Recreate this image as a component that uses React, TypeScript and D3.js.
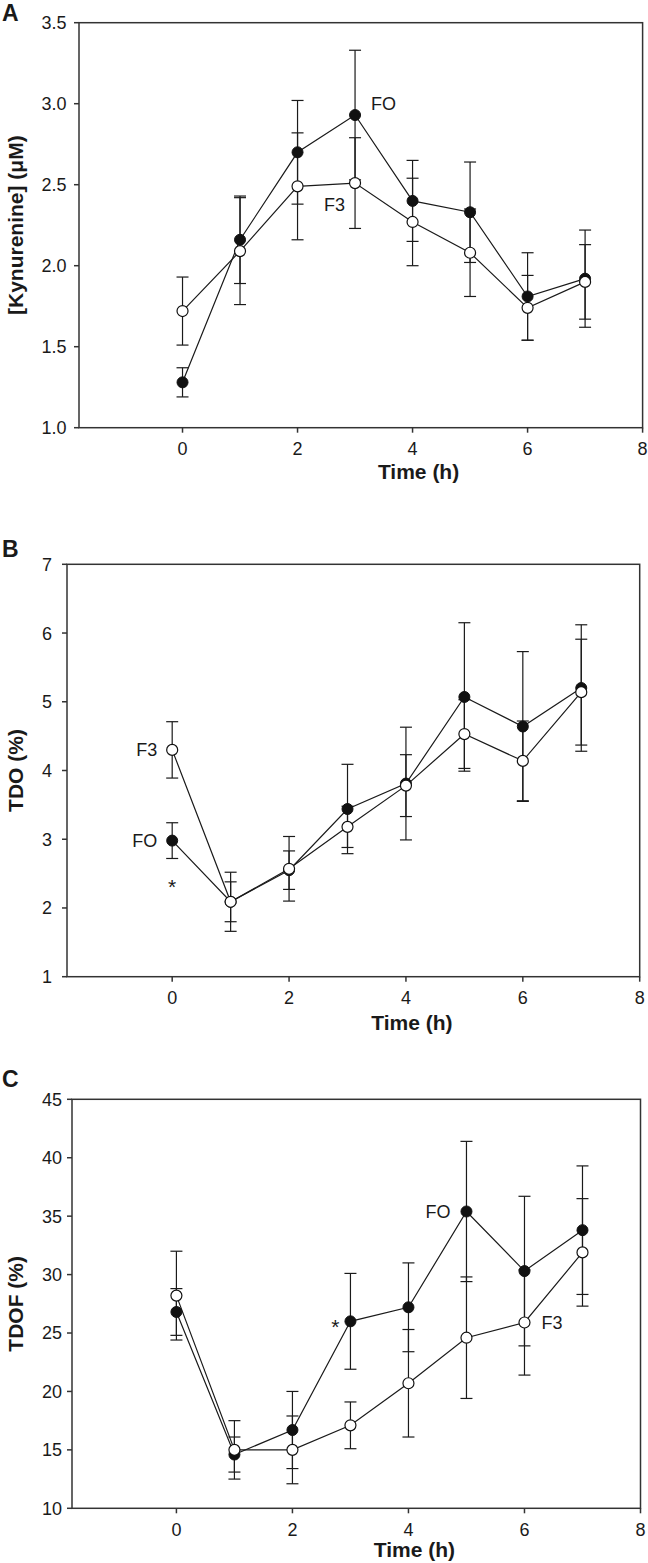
import React from "react";
import * as d3 from "d3";

const TIME = [0, 1, 2, 3, 4, 5, 6, 7];
const X_TICKS = [0, 2, 4, 6, 8];

const A_FO = [1.28, 2.16, 2.7, 2.93, 2.4, 2.33, 1.81, 1.92];
const A_FO_SD = [0.09, 0.27, 0.32, 0.4, 0.25, 0.31, 0.27, 0.3];
const A_F3 = [1.72, 2.09, 2.49, 2.51, 2.27, 2.08, 1.74, 1.9];
const A_F3_SD = [0.21, 0.33, 0.33, 0.28, 0.27, 0.27, 0.2, 0.23];
const A_TICKS = [1.0, 1.5, 2.0, 2.5, 3.0, 3.5];

const B_FO = [2.98, 2.09, 2.55, 3.44, 3.81, 5.07, 4.64, 5.2];
const B_FO_SD = [0.26, 0.29, 0.28, 0.65, 0.82, 1.08, 1.09, 0.92];
const B_F3 = [4.3, 2.09, 2.57, 3.18, 3.78, 4.53, 4.14, 5.14];
const B_F3_SD = [0.41, 0.43, 0.47, 0.3, 0.45, 0.5, 0.58, 0.77];
const B_TICKS = [1, 2, 3, 4, 5, 6, 7];

const C_FO = [26.8, 14.6, 16.7, 26.0, 27.2, 35.4, 30.3, 33.8];
const C_FO_SD = [2.0, 1.5, 3.3, 4.1, 3.8, 6.0, 6.4, 5.5];
const C_F3 = [28.2, 15.0, 15.0, 17.1, 20.7, 24.6, 25.9, 31.9];
const C_F3_SD = [3.8, 2.5, 2.9, 2.0, 4.6, 5.2, 4.5, 4.6];
const C_TICKS = [10, 15, 20, 25, 30, 35, 40, 45];

const FONT = "'Liberation Sans', Arial, Helvetica, sans-serif";
const AXIS = "#333";
const INK = "#1a1a1a";

type Ann = { text: string; t: number; v: number; dx: number; anchor: string; size?: number; dy?: number };

type PanelCfg = {
  letter: string;
  letterY: number;
  left: number;
  right: number;
  top: number;
  bottom: number;
  domain: [number, number];
  ticks: number[];
  fmt: (d: number) => string;
  yTitle: string;
  labelGap: number;
  titleOffset: number;
  fo: number[];
  foSd: number[];
  f3: number[];
  f3Sd: number[];
  anns: Ann[];
};

const PANELS: PanelCfg[] = [
  {
    letter: "A", letterY: 21, left: 79, right: 642.6, top: 22.7, bottom: 427.7,
    domain: [1, 3.5], ticks: A_TICKS, fmt: d3.format(".1f"), yTitle: "[Kynurenine] (\u03bcM)",
    labelGap: 12.5, titleOffset: 44,
    fo: A_FO, foSd: A_FO_SD, f3: A_F3, f3Sd: A_F3_SD,
    anns: [
      { text: "FO", t: 3, v: 3.0, dx: 16, anchor: "start" },
      { text: "F3", t: 3, v: 2.38, dx: -10, anchor: "end" },
    ],
  },
  {
    letter: "B", letterY: 557, left: 67, right: 639.7, top: 564.3, bottom: 976.7,
    domain: [1, 7], ticks: B_TICKS, fmt: d3.format("d"), yTitle: "TDO (%)",
    labelGap: 15, titleOffset: 46,
    fo: B_FO, foSd: B_FO_SD, f3: B_F3, f3Sd: B_F3_SD,
    anns: [
      { text: "F3", t: 0, v: 4.3, dx: -15, anchor: "end" },
      { text: "FO", t: 0, v: 2.98, dx: -15, anchor: "end" },
      { text: "*", t: 0, v: 2.38, dx: 0, anchor: "middle", dy: 12, size: 21 },
    ],
  },
  {
    letter: "C", letterY: 1087, left: 72, right: 640.5, top: 1099.3, bottom: 1508.3,
    domain: [10, 45], ticks: C_TICKS, fmt: d3.format("d"), yTitle: "TDOF (%)",
    labelGap: 10, titleOffset: 41,
    fo: C_FO, foSd: C_FO_SD, f3: C_F3, f3Sd: C_F3_SD,
    anns: [
      { text: "FO", t: 5, v: 35.4, dx: -16, anchor: "end" },
      { text: "F3", t: 6, v: 25.9, dx: 17, anchor: "start" },
      { text: "*", t: 3, v: 25.9, dx: -15, anchor: "middle", dy: 12, size: 21 },
    ],
  },
];

function Panel({ cfg }: { cfg: PanelCfg }) {
  const x = d3.scaleLinear().domain([-1.8, 8]).range([cfg.left, cfg.right]);
  const y = d3.scaleLinear().domain(cfg.domain).range([cfg.bottom, cfg.top]);
  const line = d3
    .line<number>()
    .x((_, i) => x(TIME[i]))
    .y((d) => y(d));
  const cap = 6;
  const r = 5.5;

  const errBars = (vals: number[], sds: number[], key: string) =>
    vals.map((v, i) => {
      const cx = x(TIME[i]);
      const y1 = y(v + sds[i]);
      const y2 = y(v - sds[i]);
      return (
        <g key={key + i} stroke={INK} strokeWidth={1.2}>
          <line x1={cx} x2={cx} y1={y1} y2={y2} />
          <line x1={cx - cap} x2={cx + cap} y1={y1} y2={y1} />
          <line x1={cx - cap} x2={cx + cap} y1={y2} y2={y2} />
        </g>
      );
    });

  const midY = (cfg.top + cfg.bottom) / 2;

  return (
    <g>
      <rect
        x={cfg.left}
        y={cfg.top}
        width={cfg.right - cfg.left}
        height={cfg.bottom - cfg.top}
        fill="none"
        stroke={AXIS}
        strokeWidth={1.5}
      />
      {cfg.ticks.map((t) => (
        <g key={"yt" + t}>
          <line x1={cfg.left - 5} x2={cfg.left} y1={y(t)} y2={y(t)} stroke={AXIS} strokeWidth={1.5} />
          <text
            x={cfg.left - cfg.labelGap}
            y={y(t)}
            dy="0.36em"
            textAnchor="end"
            fontSize={18}
            fontFamily={FONT}
            fill={INK}
          >
            {cfg.fmt(t)}
          </text>
        </g>
      ))}
      {X_TICKS.map((t) => (
        <g key={"xt" + t}>
          <line x1={x(t)} x2={x(t)} y1={cfg.bottom} y2={cfg.bottom + 5} stroke={AXIS} strokeWidth={1.5} />
          <text
            x={x(t)}
            y={cfg.bottom + 21}
            dy="0.36em"
            textAnchor="middle"
            fontSize={18}
            fontFamily={FONT}
            fill={INK}
          >
            {t}
          </text>
        </g>
      ))}
      <text
        x={(x(0) + x(8)) / 2 + 6}
        y={cfg.bottom + cfg.titleOffset}
        dy="0.36em"
        textAnchor="middle"
        fontSize={21}
        fontWeight="bold"
        fontFamily={FONT}
        fill={INK}
      >
        Time (h)
      </text>
      <text
        transform={`translate(15,${midY}) rotate(-90)`}
        dy="0.36em"
        textAnchor="middle"
        fontSize={21}
        fontWeight="bold"
        fontFamily={FONT}
        fill={INK}
      >
        {cfg.yTitle}
      </text>
      <text x={2} y={cfg.letterY} fontSize={23} fontWeight="bold" fontFamily={FONT} fill={INK}>
        {cfg.letter}
      </text>
      <path d={line(cfg.fo) || ""} fill="none" stroke={INK} strokeWidth={1.2} />
      <path d={line(cfg.f3) || ""} fill="none" stroke={INK} strokeWidth={1.2} />
      {errBars(cfg.fo, cfg.foSd, "fe")}
      {errBars(cfg.f3, cfg.f3Sd, "te")}
      {cfg.fo.map((v, i) => (
        <circle key={"fo" + i} cx={x(TIME[i])} cy={y(v)} r={r} fill="#111" stroke="#111" strokeWidth={1} />
      ))}
      {cfg.f3.map((v, i) => (
        <circle key={"f3" + i} cx={x(TIME[i])} cy={y(v)} r={r} fill="#fff" stroke="#111" strokeWidth={1.2} />
      ))}
      {cfg.anns.map((a, i) => (
        <text
          key={"ann" + i}
          x={x(a.t) + a.dx}
          y={y(a.v)}
          dy={a.dy !== undefined ? a.dy : "0.36em"}
          textAnchor={a.anchor as any}
          fontSize={a.size || 18}
          fontFamily={FONT}
          fill={INK}
        >
          {a.text}
        </text>
      ))}
    </g>
  );
}

export default function App() {
  return (
    <svg
      width={648}
      height={1563}
      viewBox="0 0 648 1563"
      style={{ position: "absolute", left: 0, top: 0, background: "#fff" }}
    >
      <rect x={0} y={0} width={648} height={1563} fill="#fff" />
      {PANELS.map((p) => (
        <Panel key={p.letter} cfg={p} />
      ))}
    </svg>
  );
}
